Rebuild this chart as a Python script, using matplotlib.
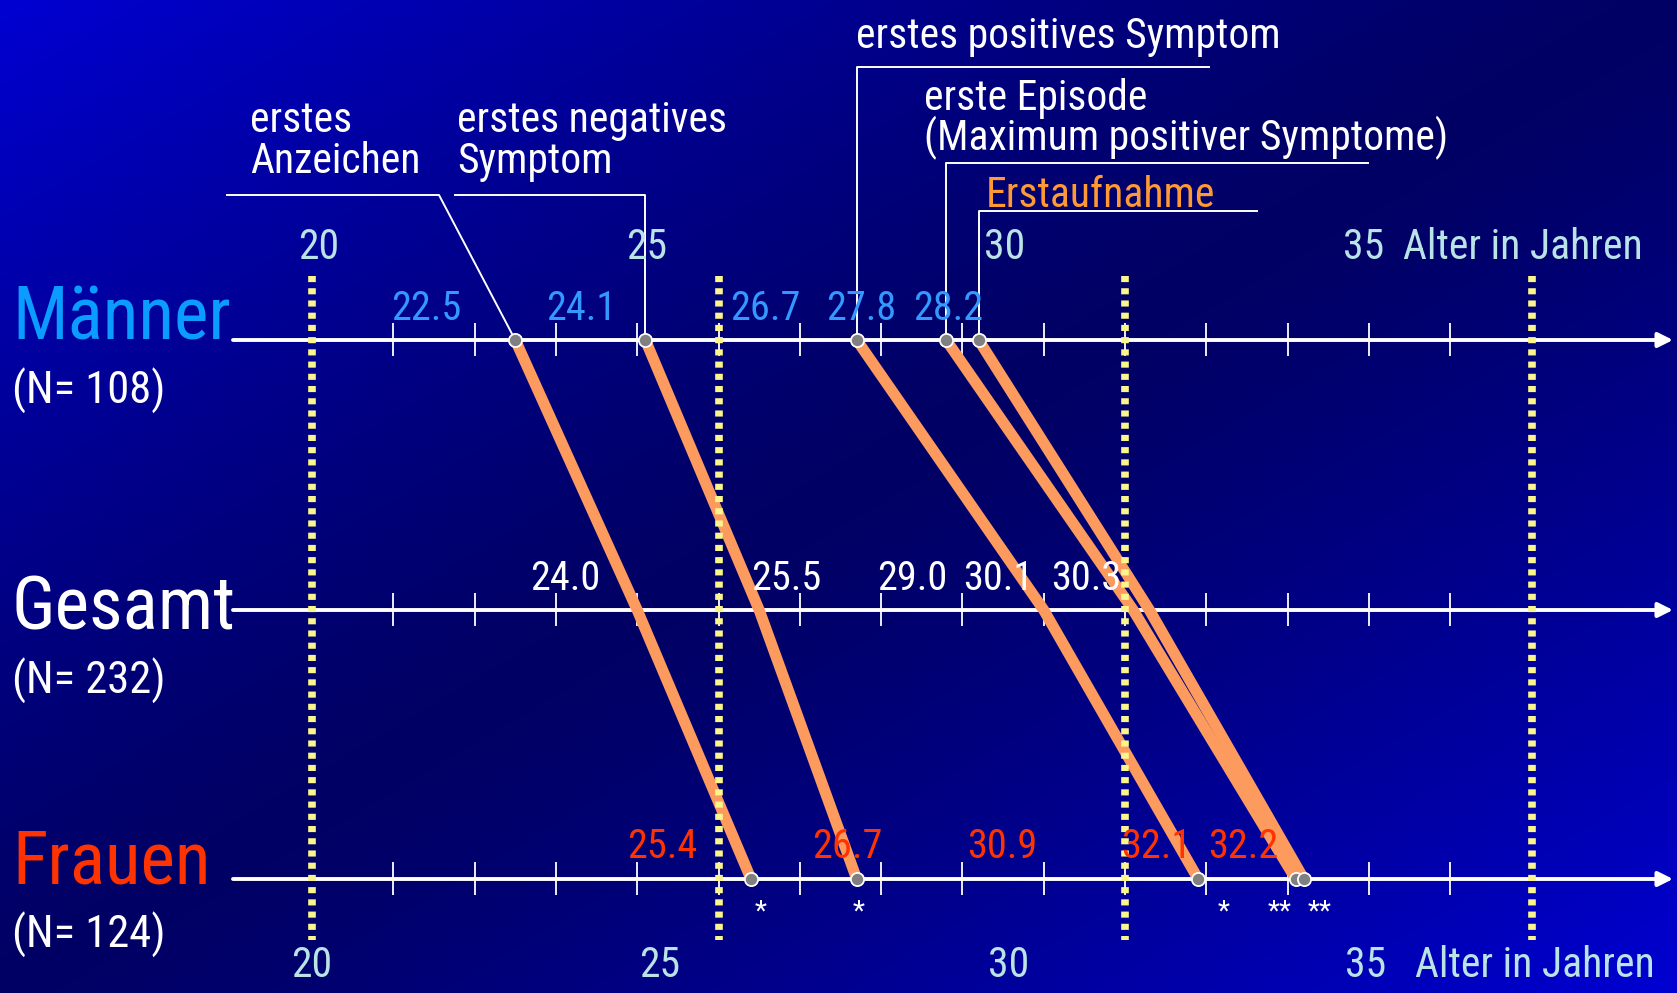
import numpy as np
import matplotlib
matplotlib.use('Agg')
import matplotlib.pyplot as plt
from matplotlib.colors import LinearSegmentedColormap

plt.rcParams['font.family'] = ['Roboto Condensed', 'Archivo Narrow', 'PT Sans Narrow',
                               'IBM Plex Sans Condensed', 'DejaVu Sans']

# Alter (Jahre) beim jeweiligen Ereignis
ereignisse = ['erstes Anzeichen', 'erstes negatives Symptom', 'erstes positives Symptom',
              'erste Episode', 'Erstaufnahme']
maenner = [22.5, 24.1, 26.7, 27.8, 28.2]
gesamt = [24.0, 25.5, 29.0, 30.1, 30.3]
frauen = [25.4, 26.7, 30.9, 32.1, 32.2]
signifikanz = ['*', '*', '*', '**', '**']
gruppen = ['Männer', 'Gesamt', 'Frauen']
n_gruppe = [108, 232, 124]
tick_jahre = list(range(21, 35))
jahr_marken = [20, 25, 30, 35]
jahr_texte = ['20', '25', '30', '35']

# Layout in Pixeln (von oben gemessen)
W, H = 1677, 993
PX_20 = 312        # x-Pixel fuer 20 Jahre
PX_JAHR = 81.3     # Pixel pro Jahr
zeilen_y = [340, 610, 879]
name_baseline = [340, 630, 884]
lab_x = [[426, 581, 765, 861, 948],
         [565, 786, 912, 998, 1086],
         [662, 847, 1002, 1156, 1243]]
stern_dx = [10, 2, 25, -16, 16]
oben_jahr_x = [319, 647, 1005, 1364]
unten_jahr_x = [312, 660, 1009, 1366]

farbe_m = '#0a9cff'
farbe_m_wert = '#3399ff'
farbe_f = '#ff3300'
farbe_achse_text = '#b9e3e6'
orange = '#fd9a5e'
gelb = '#fbf68c'


def alter(px):
    return 20 + (px - PX_20) / PX_JAHR


fig = plt.figure(figsize=(W / 100, H / 100), dpi=100)
ax = fig.add_axes([0, 0, 1, 1])
ax.set_xlim(alter(0), alter(W))
ax.set_ylim(H, 0)
ax.axis('off')

# Hintergrund: diagonaler Verlauf hell - dunkel - hell
xx, yy = np.meshgrid(np.linspace(0, 1, 400), np.linspace(0, 1, 240))
t = np.abs((xx + yy) / 2 - 0.5) * 2
cmap = LinearSegmentedColormap.from_list('bg', ['#000064', '#0000d2'])
ax.imshow(t ** 1.3, cmap=cmap, extent=(alter(0), alter(W), H, 0), aspect='auto',
          zorder=0, interpolation='bilinear')

# Zeitachsen mit Pfeil und Ticks
for y in zeilen_y:
    ax.annotate('', xy=(alter(1673), y), xytext=(alter(233), y),
                arrowprops=dict(arrowstyle='-|>', color='white', lw=2.8,
                                mutation_scale=22, shrinkA=0, shrinkB=0), zorder=2)
    ax.vlines(tick_jahre, y - 17, y + 16, color='white', lw=1.3, zorder=2)

# gelbe Markierungen alle 5 Jahre
for j in jahr_marken:
    ax.plot([j, j], [276, 940], color=gelb, lw=5.5, dashes=(0.8, 0.8), zorder=4)

# Verbindungslinien Maenner -> Gesamt -> Frauen
for m, g, f in zip(maenner, gesamt, frauen):
    ax.plot([m, g, f], zeilen_y, color=orange, lw=8, solid_capstyle='butt',
            solid_joinstyle='miter', zorder=3)

for werte, y in [(maenner, zeilen_y[0]), (frauen, zeilen_y[2])]:
    ax.plot(werte, [y] * len(werte), 'o', ms=9.5, mfc='#808080', mec='white',
            mew=1.3, zorder=5)

# Werte ueber den Achsen
wert_farben = [farbe_m_wert, 'white', farbe_f]
for werte, y, farbe, xs in zip([maenner, gesamt, frauen], zeilen_y, wert_farben, lab_x):
    for w, px in zip(werte, xs):
        ax.text(alter(px), y - 32, f'{w:.1f}', color=farbe, fontsize=29,
                ha='center', va='center', zorder=6)

# Signifikanzsterne unter den Frauen-Werten
for w, s, dx in zip(frauen, signifikanz, stern_dx):
    ax.text(alter(PX_20 + (w - 20) * PX_JAHR + dx), 912, s, color='white', fontsize=20,
            ha='center', va='center', zorder=6)

# Gruppennamen
name_farben = [farbe_m, 'white', farbe_f]
for name, n, yb, farbe in zip(gruppen, n_gruppe, name_baseline, name_farben):
    ax.text(alter(12), yb, name, color=farbe, fontsize=53, ha='left', va='baseline', zorder=6)
    ax.text(alter(12), yb + 64, f'(N= {n})', color='white', fontsize=32,
            ha='left', va='baseline', zorder=6)

# Jahreszahlen oben und unten
for txt, px in zip(jahr_texte, oben_jahr_x):
    ax.text(alter(px), 259, txt, color=farbe_achse_text, fontsize=30, ha='center',
            va='baseline', zorder=6)
for txt, px in zip(jahr_texte, unten_jahr_x):
    ax.text(alter(px), 977, txt, color=farbe_achse_text, fontsize=30, ha='center',
            va='baseline', zorder=6)
ax.text(alter(1403), 259, 'Alter in Jahren', color=farbe_achse_text, fontsize=30,
        ha='left', va='baseline', zorder=6)
ax.text(alter(1415), 977, 'Alter in Jahren', color=farbe_achse_text, fontsize=30,
        ha='left', va='baseline', zorder=6)

# Beschriftungen der Ereignisse mit Fuehrungslinien
beschriftung = [
    (250, [(132, 'erstes'), (173, 'Anzeichen')], 'white'),
    (457, [(132, 'erstes negatives'), (173, 'Symptom')], 'white'),
    (856, [(48, 'erstes positives Symptom')], 'white'),
    (924, [(110, 'erste Episode'), (150, '(Maximum positiver Symptome)')], 'white'),
    (986, [(207, 'Erstaufnahme')], '#ff9933'),
]
for x0, zeilen, farbe in beschriftung:
    for yb, txt in zeilen:
        ax.text(alter(x0), yb, txt, color=farbe, fontsize=30, ha='left',
                va='baseline', zorder=6)

fuehrung = [(227, 195, 439), (455, 195, None), (1209, 67, None),
            (1368, 163, None), (1257, 211, None)]
for (x_fern, y_h, knick), m in zip(fuehrung, maenner):
    ecke = alter(knick) if knick is not None else m
    ax.plot([alter(x_fern), ecke, m], [y_h, y_h, zeilen_y[0]], color='white',
            lw=1.4, zorder=4)

fig.savefig('out.png', dpi=100)
